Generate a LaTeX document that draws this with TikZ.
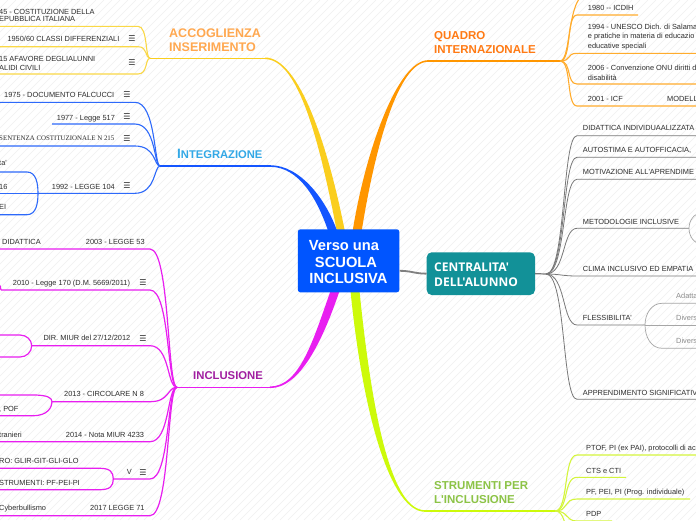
\documentclass[tikz,border=0pt]{standalone}
\usepackage{fontspec}
\setmainfont[Ligatures=TeXOff]{Liberation Sans}
\newfontfamily\dejavu{DejaVu Sans}
\newfontfamily\opensans[Ligatures=TeXOff]{Open Sans}
\newfontfamily\timesf[Ligatures=TeXOff]{Liberation Serif}
\definecolor{cyel}{RGB}{250,206,30}
\definecolor{cyell}{RGB}{250,216,70}
\definecolor{cblu}{RGB}{20,85,255}
\definecolor{cblul}{RGB}{45,105,250}
\definecolor{cora}{RGB}{255,150,0}
\definecolor{coral}{RGB}{255,172,45}
\definecolor{cmag}{RGB}{232,30,240}
\definecolor{clim}{RGB}{205,250,10}
\definecolor{climl}{RGB}{212,245,60}
\definecolor{cgry}{RGB}{120,120,120}
\definecolor{ctxt}{RGB}{45,45,45}
\definecolor{lacc}{RGB}{255,168,80}
\definecolor{lint}{RGB}{50,168,230}
\definecolor{lqua}{RGB}{255,122,20}
\definecolor{linc}{RGB}{160,30,160}
\definecolor{lstr}{RGB}{140,195,70}
\definecolor{croot}{RGB}{0,85,255}
\definecolor{cteal}{RGB}{18,145,152}
\begin{document}
\begin{tikzpicture}[x=1pt,y=-1pt,
 itm/.style={font=\fontsize{7.4}{8}\selectfont, text=ctxt, inner sep=0pt, anchor=base west},
 itg/.style={itm, text=black!45},
 menu/.style={font=\dejavu\fontsize{8}{8}\selectfont, text=ctxt, inner sep=0pt, anchor=center},
 lbl/.style={font=\bfseries\fontsize{11.5}{12}\selectfont, inner sep=0pt, anchor=base west},
 rtxt/.style={font=\bfseries\fontsize{14.7}{17}\selectfont, text=white, inner sep=0pt, anchor=base},
 ctx/.style={font=\opensans\bfseries\fontsize{12}{14}\selectfont, text=white, inner sep=0pt, anchor=base west},
 ysub/.style={draw=cyell, line width=1.1pt},
 bsub/.style={draw=cblul, line width=1.1pt},
 msub/.style={draw=cmag, line width=1.2pt},
 osub/.style={draw=coral, line width=1.1pt},
 gsub/.style={draw=cgry, line width=0.8pt},
 gsubb/.style={draw=black!35, line width=0.7pt},
 lsub/.style={draw=climl, line width=1.1pt},
 bgl/.style={draw=black!6, line width=0.4pt}]
\useasboundingbox (0,0) rectangle (696,520);
\clip (0,0) rectangle (696,520);
\fill[white] (0,0) rectangle (696,520);
\foreach \i in {0,8,...,1224} \draw[bgl] (\i-520,520) -- (\i,0);

% junctions
\coordinate (jy) at (150,58.3);
\coordinate (jb) at (160,166);
\coordinate (jb4) at (38,193.3);
\coordinate (jm) at (177,387.3);
\coordinate (jm2) at (1,290);
\coordinate (jm3) at (31.7,345.7);
\coordinate (jm4) at (52,401.7);
\coordinate (jm6) at (113.3,479);
\coordinate (jo) at (560,61);
\coordinate (jg) at (546,274);
\coordinate (jg4) at (689,228.3);
\coordinate (jg6) at (645,325);
\coordinate (jl) at (555,511);

% main branches
\draw[cyel, line width=1.6pt] (jy) -- (266,58.3);
\fill[cyel] (265,57.5) .. controls (300,57.5) and (329,150) .. (345,232) -- (337,232) .. controls (321,150) and (300,59.1) .. (265,59.1) -- cycle;
\draw[cblu, line width=1.6pt] (jb) -- (271,166);
\fill[cblu] (270,165.2) .. controls (300,165.2) and (326,199) .. (337.5,232) -- (328.5,232) .. controls (318,201) and (300,166.8) .. (270,166.8) -- cycle;
\draw[cora, line width=1.6pt] (jo) -- (427,61);
\fill[cora] (428,60.2) .. controls (398,60.2) and (365.5,150) .. (352.5,232) -- (361.5,232) .. controls (374.5,150) and (398,61.8) .. (428,61.8) -- cycle;
\draw[cmag, line width=1.6pt] (jm) -- (271,387.3);
\fill[cmag] (270,388.1) .. controls (300,388.1) and (322.5,341) .. (339.5,291) -- (330.5,291) .. controls (313.5,339) and (300,386.5) .. (270,386.5) -- cycle;
\draw[clim, line width=1.6pt] (jl) -- (424,511);
\fill[clim] (350.5,291) .. controls (363.5,421) and (392,511.8) .. (425,511.8) -- (425,510.2) .. controls (392,510.2) and (372.5,419) .. (359.5,291) -- cycle;

% ---- ACCOGLIENZA
\draw[ysub] (0,26.3) -- (138,26.3) .. controls (148,26.3) and (145,58.3) .. (jy);
\draw[ysub] (0,46.7) -- (138,46.7) .. controls (148,46.7) and (145,58.3) .. (jy);
\draw[ysub] (0,74) -- (138,74) .. controls (148,74) and (145,58.3) .. (jy);
\node[itm] (y1a) at (-1,14) {45 - COSTITUZIONE DELLA};
\node[itm] (y1b) at (-1,21.7) {EPUBBLICA ITALIANA};
\node[itm] (y2) at (7.3,41.7) {1950/60 CLASSI DIFFERENZIALI};
\node[menu] (y2m) at (132,39) {☰};
\node[itm] (y3a) at (-1,61) {15 AFAVORE DEGLIALUNNI};
\node[itm] (y3b) at (-1,70) {ALIDI CIVILI};
\node[menu] (y3m) at (132,62.7) {☰};
\node[lbl, text=lacc, font=\bfseries\fontsize{12.5}{13}\selectfont] (tacc1) at (169,37) {ACCOGLIENZA};
\node[lbl, text=lacc, font=\bfseries\fontsize{12.5}{13}\selectfont] (tacc2) at (169,51) {INSERIMENTO};

% ---- INTEGRAZIONE
\draw[bsub] (0,102.3) -- (135,102.3) .. controls (156,102.3) and (154,166) .. (jb);
\draw[bsub] (52,124) -- (135,124) .. controls (156,124) and (154,166) .. (jb);
\draw[bsub] (0,146) -- (135,146) .. controls (156,146) and (154,166) .. (jb);
\draw[bsub] (jb4) -- (135,193.3) .. controls (156,193.3) and (154,166) .. (jb);
\draw[bsub] (0,172) -- (27,172) to[out=0,in=90] (jb4);
\draw[bsub] (0,214.7) -- (27,214.7) to[out=0,in=-90] (jb4);
\draw[bsub] (0,193.3) -- (jb4);
\node[itm] (b1) at (4,97.7) {1975 - DOCUMENTO FALCUCCI};
\node[menu] (b1m) at (127,95) {☰};
\node[itm] (b2) at (56.7,120) {1977 - Legge 517};
\node[menu] (b2m) at (127,116.7) {☰};
\node[itm, font=\timesf\fontsize{6.9}{8}\selectfont] (b3) at (-1,140.7) {SENTENZA COSTITUZIONALE N 215};
\node[menu] (b3m) at (127,138.7) {☰};
\node[itm] (b4) at (51.7,189) {1992 - LEGGE 104};
\node[menu] (b4m) at (127,186) {☰};
\node[itm] (b4a) at (-1,165) {ta'};
\node[itm] (b4b) at (-1,189) {16};
\node[itm] (b4c) at (-1,209) {EI};
\node[lbl, text=lint, font=\bfseries\fontsize{11.2}{12}\selectfont] (tint) at (177,158) {{\fontsize{13.5}{12}\selectfont I}NTEGRAZIONE};

% ---- INCLUSIONE
\draw[msub] (0,249) -- (150,249) .. controls (170,249) and (167,387.3) .. (jm);
\draw[msub] (jm2) -- (150,290) .. controls (170,290) and (167,387.3) .. (jm);
\draw[msub] (jm2) to[out=90,in=0] (-10,280);
\draw[msub] (jm3) -- (150,345.7) .. controls (170,345.7) and (167,387.3) .. (jm);
\draw[msub] (0,335) -- (20,335) to[out=0,in=90] (jm3);
\draw[msub] (0,357) -- (20,357) to[out=0,in=-90] (jm3);
\draw[msub] (jm4) -- (150,401.7) .. controls (170,401.7) and (167,387.3) .. (jm);
\draw[msub] (0,395) -- (33,395) .. controls (48,395) and (52,398) .. (jm4);
\draw[msub] (0,415.7) -- (33,415.7) .. controls (48,415.7) and (52,407) .. (jm4);
\draw[msub] (0,441.7) -- (150,441.7) .. controls (170,441.7) and (167,387.3) .. (jm);
\draw[msub] (jm6) -- (150,479) .. controls (170,479) and (167,387.3) .. (jm);
\draw[msub] (0,468.3) -- (100,468.3) .. controls (110,468.3) and (113.3,472) .. (jm6);
\draw[msub] (0,489.7) -- (100,489.7) .. controls (110,489.7) and (113.3,486) .. (jm6);
\draw[msub] (0,515.7) -- (150,515.7) .. controls (170,515.7) and (167,387.3) .. (jm);
\node[itm] (m1a) at (2,244) {DIDATTICA};
\node[itm] (m1) at (85.7,244) {2003 - LEGGE 53};
\node[itm] (m2) at (12.7,285) {2010 - Legge 170 (D.M. 5669/2011)};
\node[menu] (m2m) at (143,282.7) {☰};
\node[itm] (m3) at (43.3,340.7) {DIR. MIUR del 27/12/2012};
\node[menu] (m3m) at (143,338.3) {☰};
\node[itm] (m4) at (64,396.7) {2013 - CIRCOLARE N 8};
\node[itm] (m4a) at (-1,411.7) {, POF};
\node[itm] (m5a) at (-1,437.7) {tranieri};
\node[itm] (m5) at (65.7,437.7) {2014 - Nota MIUR 4233};
\node[itm] (m6) at (126.7,474) {V};
\node[menu] (m6m) at (143,472.3) {☰};
\node[itm] (m6a) at (-1,463.3) {RO: GLIR-GIT-GLI-GLO};
\node[itm] (m6b) at (-1,485.7) {STRUMENTI: PF-PEI-PI};
\node[itm] (m7a) at (-1,510) {Cyberbullismo};
\node[itm] (m7) at (90,510) {2017 LEGGE 71};
\node[lbl, text=linc, font=\bfseries\fontsize{11.3}{12}\selectfont] (tinc) at (193,379) {INCLUSIONE};

% ---- QUADRO INTERNAZIONALE
\draw[osub] (jo) .. controls (572,61) and (566,-8) .. (590,-8);
\draw[osub] (jo) .. controls (572,61) and (566,15) .. (577,15) -- (638,15);
\draw[osub] (jo) .. controls (572,61) and (566,53.3) .. (577,53.3) -- (700,53.3);
\draw[osub] (jo) .. controls (572,61) and (566,84) .. (577,84) -- (700,84);
\draw[osub] (jo) .. controls (572,61) and (566,106) .. (577,106) -- (700,106);
\node[itm] (o1) at (587.7,10.3) {1980 -- ICDIH};
\node[itm] (o2a) at (587.7,29) {1994 - UNESCO Dich. di Salama};
\node[itm] (o2b) at (587.7,38.7) {e pratiche in materia di educazio};
\node[itm] (o2c) at (587.7,48.3) {educative speciali};
\node[itm] (o3a) at (587.7,70.7) {2006 - Convenzione ONU diritti d};
\node[itm] (o3b) at (587.7,80) {disabilità};
\node[itm] (o4) at (587.7,101.5) {2001 - ICF};
\node[itm] (o4b) at (667,101.5) {MODELL};
\node[lbl, text=lqua] (tqua1) at (434,39) {QUADRO};
\node[lbl, text=lqua] (tqua2) at (434,53) {INTERNAZIONALE};

% ---- CENTRALITA'
\draw[gsub] (jg) .. controls (566,274) and (562,135.7) .. (577,135.7) -- (700,135.7);
\draw[gsub] (jg) .. controls (566,274) and (562,157.3) .. (577,157.3) -- (700,157.3);
\draw[gsub] (jg) .. controls (566,274) and (562,179.3) .. (577,179.3) -- (700,179.3);
\draw[gsub] (jg) .. controls (566,274) and (562,228.3) .. (577,228.3) -- (jg4);
\draw[gsubb] (jg4) to[out=90,in=180] (702,213);
\draw[gsubb] (jg4) to[out=-90,in=180] (702,244);
\draw[gsub] (jg) .. controls (560,274) and (562,276) .. (577,276) -- (700,276);
\draw[gsub] (jg) .. controls (566,274) and (562,325) .. (577,325) -- (jg6);
\draw[gsubb] (jg6) to[out=90,in=180] (662,303.3) -- (700,303.3);
\draw[gsubb] (jg6) -- (700,325);
\draw[gsubb] (jg6) to[out=-90,in=180] (662,348.3) -- (700,348.3);
\draw[gsub] (jg) .. controls (566,274) and (562,399.3) .. (577,399.3) -- (700,399.3);
\node[itm] (g1) at (582.7,130.7) {DIDATTICA INDIVIDUAALIZZATA};
\node[itm] (g2) at (582.7,152.3) {AUTOSTIMA E AUTOFFICACIA,};
\node[itm] (g3) at (582.7,174.3) {MOTIVAZIONE ALL'APRENDIME};
\node[itm] (g4) at (582.7,224) {METODOLOGIE INCLUSIVE};
\node[itm] (g5) at (582.7,271.7) {CLIMA INCLUSIVO ED EMPATIA};
\node[itm] (g6) at (582.7,320.7) {FLESSIBILITA'};
\node[itg] (g6a) at (676,298.3) {Adatta};
\node[itg] (g6b) at (676,320.7) {Divers};
\node[itg] (g6c) at (676,343.3) {Divers};
\node[itm] (g7) at (582.7,395) {APPRENDIMENTO SIGNIFICATIV};

% ---- STRUMENTI
\draw[lsub] (jl) .. controls (569,511) and (563,455) .. (577,455) -- (700,455);
\draw[lsub] (jl) .. controls (569,511) and (563,477.3) .. (577,477.3) -- (626,477.3);
\draw[lsub] (jl) .. controls (569,511) and (563,499) .. (577,499) -- (690,499);
\draw[lsub] (jl) .. controls (569,511) and (565,521) .. (577,521) -- (612,521);
\draw[lsub] (jl) .. controls (569,511) and (563,545) .. (577,545);
\node[itm] (l1) at (586,450) {PTOF, PI (ex PAI), protocolli di ac};
\node[itm] (l2) at (586,473.3) {CTS e CTI};
\node[itm] (l3) at (586,494.3) {PF, PEI, PI (Prog. individuale)};
\node[itm] (l4) at (586,516) {PDP};
\node[lbl, text=lstr] (tstr1) at (434,489) {STRUMENTI PER};
\node[lbl, text=lstr] (tstr2) at (434,503) {L'INCLUSIONE};

% ---- central nodes
\node[fill=cteal, rounded corners=5pt, minimum width=108.3pt, minimum height=42.7pt, inner sep=0pt] (cent) at (480.85,273.65) {};
\draw[gsub, line width=1.2pt] (cent.east) -- (jg);
\node[fill=croot, rounded corners=2.5pt, minimum width=101.5pt, minimum height=63pt, inner sep=0pt] (root) at (348.6,260.8) {};
\draw[draw=black!50, line width=1.8pt] ([yshift=-10pt]root.east) .. controls +(12,0) and +(-12,0) .. (cent.west);
\node[rtxt] (r1) at (344,250) {Verso una};
\node[rtxt] (r2) at (346,267.3) {SCUOLA};
\node[rtxt] (r3) at (348.5,283.3) {INCLUSIVA};
\node[ctx] (c1) at (434,271.7) {CENTRALITA'};
\node[ctx] (c2) at (434,286.7) {DELL'ALUNNO};
\end{tikzpicture}
\end{document}
